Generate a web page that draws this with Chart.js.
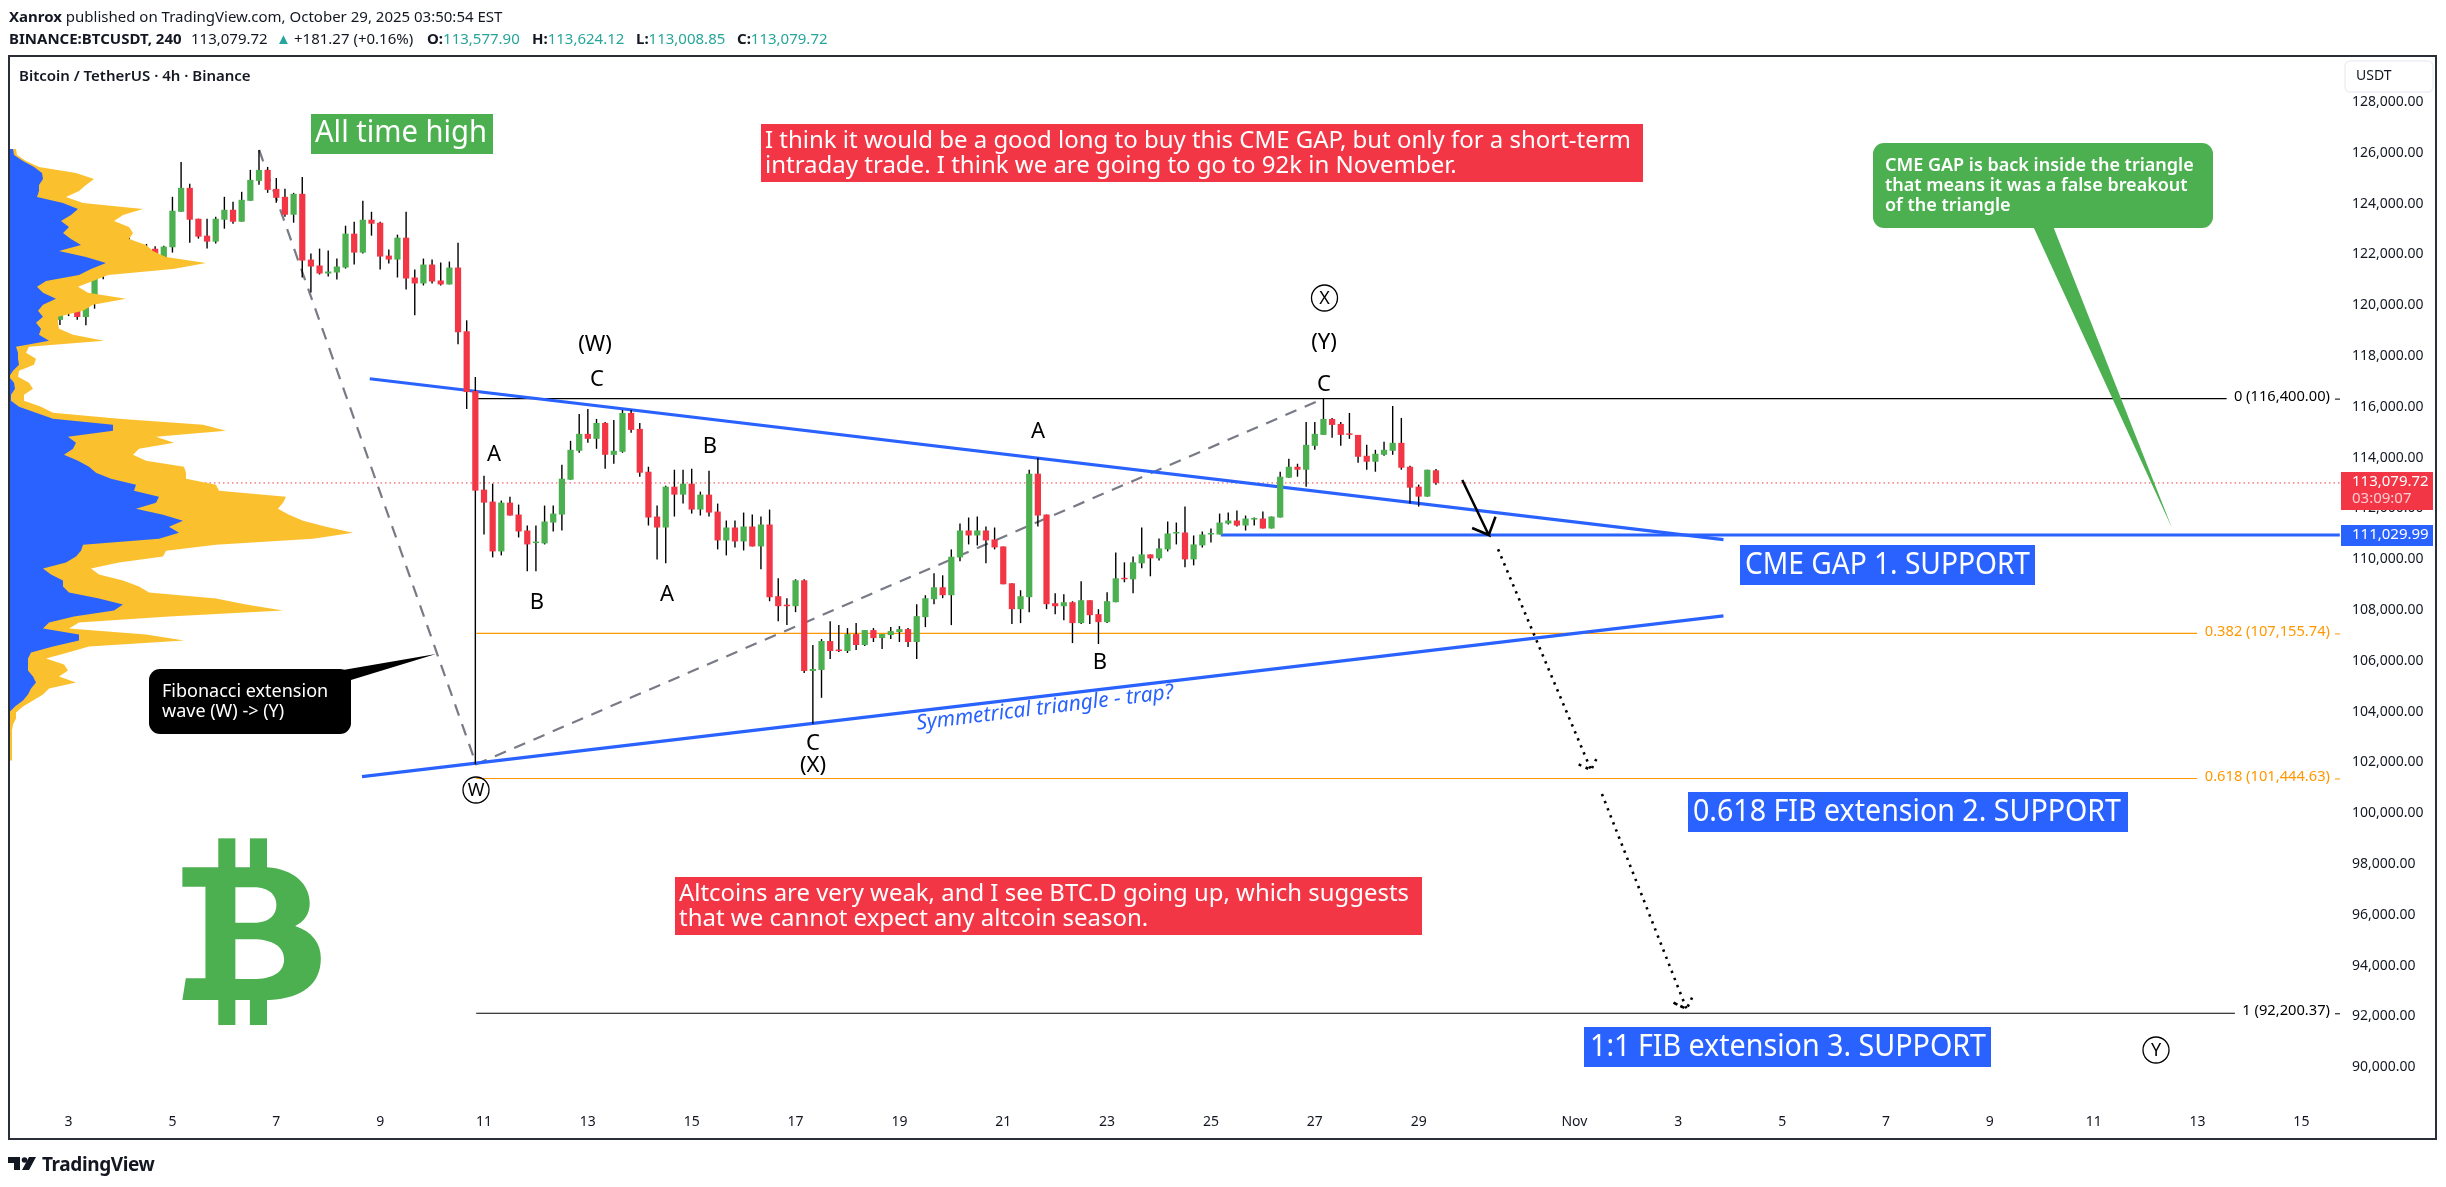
<!DOCTYPE html>
<html lang="en">
<head>
<meta charset="UTF-8">
<title>BTCUSDT 4h</title>
<script src="https://cdn.jsdelivr.net/npm/chart.js@4"></script>
<style>
    html, body { margin: 0; padding: 0; background: #fff; }
    body { width: 2446px; height: 1187px; position: relative; overflow: hidden; font-family: "Noto Sans", sans-serif; color: #131722; }
    #chart { position: absolute; left: 0; top: 0; }
    #frame { position: absolute; left: 8px; top: 55px; width: 2425px; height: 1081px; border: 2px solid #2a2e39; pointer-events: none; }
    .hd { position: absolute; font-size: 15px; line-height: 20px; white-space: nowrap; }
    .b { font-weight: 700; }
    .t { color: #26a69a; }
    #brand { position: absolute; left: 42px; top: 1152px; font-size: 19px; line-height: 24px; font-weight: 700; letter-spacing: -0.4px; }
</style>
</head>
<body>
<canvas id="chart" width="2446" height="1187"></canvas>
<div id="frame"></div>
<div class="hd" style="left:9px;top:6px"><span class="b">Xanrox</span> published on TradingView.com, October 29, 2025 03:50:54 EST</div>
<div class="hd b" style="left:9px;top:28px">BINANCE:BTCUSDT, 240</div>
<div class="hd" style="left:191px;top:28px">113,079.72</div>
<div class="hd t" style="left:276px;top:28px">▲</div>
<div class="hd" style="left:294px;top:28px">+181.27 (+0.16%)</div>
<div class="hd" style="left:427px;top:28px"><span class="b">O:</span><span class="t">113,577.90</span></div>
<div class="hd" style="left:532px;top:28px"><span class="b">H:</span><span class="t">113,624.12</span></div>
<div class="hd" style="left:636px;top:28px"><span class="b">L:</span><span class="t">113,008.85</span></div>
<div class="hd" style="left:737px;top:28px"><span class="b">C:</span><span class="t">113,079.72</span></div>
<div id="brand">TradingView</div>
<script>
// candles, 4h apart, first one at firstDay (days counted from Oct 0)
const firstDay = 2 + 4 / 6;
const opens = [119300,119500,119800,120005,119613,120449,121312,122300,122700,122450,122331,122122,122300,
    121926,122358,123756,124698,123482,122815,122580,123443,123835,123364,124188,124972,125404,124658,124345,123639,124462,121874,121639,121325,121364,121560,122894,122149,123443,123325,122031,121874,122737,121168,120933,121678,121051,120894,121560,119051,
    116698,112816,112345,110384,112306,111835,111208,110711,110698,111521,
    111835,113208,114345,115012,114816,115443,114188,114306,115835,115208,
    113522,111757,111325,112933,112619,113051,112031,112619,111953,110816,
    111325,110776,111365,110580,111443,108620,108266,108227,109247,105678,
    105717,106855,106502,106463,107129,106698,107286,106972,107090,107208,
    107325,106816,107796,108502,108972,108659,110149,111208,111012,111208,
    110855,110580,109129,108110,108580,113443,111835,108345,108227,108384,
    107561,108463,107914,107600,108384,109325,109286,109914,110266,110110,
    110463,111090,111129,110070,110620,111051,111051,111482,111600,111404,
    111639,111678,111286,111718,113286,113718,113600,114541,114972,115600,
    115404,115012,114972,114149,113914,114188,114345,114659,113718,112933,
    112541,113577.9];
const highs = [119650,119900,120590,120300,120528,121500,122000,122900,122950,122815,122515,122489,122400,
    122423,124345,125717,124855,123482,123482,123560,124345,124149,124541,125404,126188,125521,125090,124658,124502,125129,122109,122306,122227,121913,123207,123364,124188,123756,123364,122266,122855,123756,121482,121913,121874,121756,121796,122541,119482,
    117247,113365,113051,112384,112541,112227,111404,111404,112188,112188,
    113796,114737,115796,115992,115600,115482,115561,115953,115953,115443,
    113718,112188,112972,113600,113600,113639,112737,113561,112267,111600,
    111600,111914,111835,111757,112031,109325,108541,109286,109286,106698,
    106933,107639,107482,107365,107561,107286,107365,107129,107404,107443,
    107365,108306,108659,109521,109443,110463,111482,111718,111757,111365,
    111325,110580,109129,108855,113600,114070,111835,108737,108698,108424,
    109208,108463,108110,108776,110345,109953,110188,111325,110266,110894,
    111561,111521,112149,111012,111169,111286,111874,111914,111992,111796,
    111718,111953,111757,113522,114031,113835,115482,115482,116423,115639,
    115482,115835,114972,114580,114384,114698,116110,115639,113757,113012,
    113600,113624.12];
const lows = [119100,119300,119650,119500,119286,119940,121100,122188,122188,122300,122050,122000,121900,
    121900,122149,123756,122541,122698,122306,122502,123090,123286,123364,124188,124815,124502,124109,123560,123325,121168,120580,121286,121207,121090,121521,121678,122109,122815,121482,121717,121168,120698,119678,120855,120933,120855,120894,118541,115992,
    102000,111051,110149,110227,111796,110933,109600,109600,110659,111169,
    111208,113208,114267,114659,114424,113639,113835,114267,115051,113325,
    111404,110070,109914,111757,112267,111874,111796,111757,110463,110227,
    110541,110423,110580,109678,108424,107639,107482,107992,105600,103600,
    104620,106149,106423,106384,106502,106659,106816,106541,106933,106816,
    106619,106149,107404,108306,108541,107482,109992,110659,110620,109914,
    110463,109090,107522,107561,107992,111365,108110,107914,107678,106776,
    107522,107522,106737,107561,108384,109169,108737,109718,109404,110031,
    110384,110659,109757,109835,110541,110737,111051,111443,111365,111208,
    111404,111286,111286,111718,113286,113325,112933,114384,114972,114855,
    114541,114816,113874,113600,113522,114149,114188,113600,112267,112149,
    112541,113008.85];
const closes = [119500,119800,120300,119613,120005,121312,121800,122700,122450,122650,122122,122300,122000,
    122384,123796,124698,123443,122776,122580,123482,123835,123364,124227,125011,125404,124619,124305,123639,124462,121835,121600,121325,121404,121600,122894,122149,123443,123286,121992,121874,122737,121129,120933,121678,121011,120894,121560,119011,116658,
    112776,112306,110384,112306,111796,111169,110659,110737,111561,111874,
    113247,114384,115012,114816,115443,114188,114345,115835,115169,113482,
    111718,111325,112933,112619,113051,112031,112619,111914,110816,111325,
    110776,111365,110580,111443,108580,108227,108227,109247,105678,105757,
    106855,106463,106463,107129,106698,107286,106972,107129,107247,107325,
    106816,107835,108541,108972,108659,110175,111208,111012,111208,110816,
    110541,109090,108110,108620,113443,111796,108306,108227,108384,107561,
    108463,107874,107600,108424,109325,109286,109953,110266,110110,110502,
    111090,111129,110070,110659,111051,111090,111521,111600,111404,111678,
    111678,111286,111757,113325,113718,113600,114580,115012,115600,115365,
    114972,114972,114110,113914,114227,114384,114659,113678,112894,112541,
    113600,113079.72];

// volume profile rows, top row first
const vpTop = 126227;
const vpStep = 236;
const vpTotal = [8,9,18,31,68,86,78,71,58,75,135,115,106,121,125,121,138,145,158,198,165,100,85,70,80,118,85,75,50,50,51,65,96,21,18,28,26,11,10,21,25,16,16,33,45,111,195,218,148,166,131,125,
    138,176,178,178,208,211,278,275,270,281,295,318,345,305,208,158,155,111,83,91,115,131,141,208,238,275,161,71,61,138,176,81,60,38,56,60,51,68,41,35,25,15,8,8,5,4,4,4,4,4,4];
const vpBuy = [5,6,15,26,34,35,31,31,29,55,70,63,53,61,55,63,73,51,78,98,83,71,38,29,35,48,35,30,35,28,33,31,41,8,10,10,11,5,1,6,7,3,3,11,28,45,105,105,60,68,65,56,
    70,81,88,103,128,126,151,148,128,155,175,161,171,151,75,73,68,58,35,43,55,55,61,91,115,106,66,41,35,71,71,45,23,20,20,20,25,28,23,20,15,7,1,1,1,0,0,0,0,0,0];

// axes
const yTickValues = [90000,92000,94000,96000,98000,100000,102000,104000,106000,108000,110000,112000,114000,116000,118000,120000,122000,124000,126000,128000];
const xTickDays = [3,5,7,9,11,13,15,17,19,21,23,25,27,29,32,34,36,38,40,42,44,46];
const xTickLabels = ["3","5","7","9","11","13","15","17","19","21","23","25","27","29","Nov","3","5","7","9","11","13","15"];

// drawings on the chart, day / price
const upperTrendDays = [8.80, 34.87];
const upperTrendPrices = [117183, 110849];
const lowerTrendDays = [8.65, 34.87];
const lowerTrendPrices = [101514, 107849];
const zigzagDays = [6.67, 10.85, 27.17];
const zigzagPrices = [126190, 102000, 116400];
const gapDays = [25.19, 46.74];
const gapPrices = [111029.99, 111029.99];
const lastPriceDays = [1.9, 46.74];
const lastPrice = 113079.72;
const arrowDays = [29.84, 30.35, 30.03, 30.35, 30.48];
const arrowPrices = [113195, 111030, 111306, 111030, 111750];
const dotted1Days = [30.53, 32.32, 32.04, 32.32, 32.45];
const dotted1Prices = [110471, 101778, 102038, 101778, 102329];
const dotted2Days = [32.53, 34.16, 33.88, 34.16, 34.29];
const dotted2Prices = [100833, 92369, 92645, 92369, 92920];
const fibStartDay = 10.85;
const fibLabels = ["0 (116,400.00)", "0.382 (107,155.74)", "0.618 (101,444.63)", "1 (92,200.37)"];
const fibPrices = [116400, 107155.74, 101444.63, 92200.37];
const fibEndDays = [44.56, 43.99, 43.99, 44.72];
const fibColors = ["#000000", "#FF9800", "#FF9800", "#000000"];

const GREEN = "#4CAF50", RED = "#F23645", BLUE = "#2962FF", INK = "#131722";
const NOTE_FONT = '"Noto Sans", sans-serif';

const xy = (xs, ys) => xs.map((x, i) => ({ x, y: ys[i] }));
const candleDay = i => firstDay + i / 6;
const candleColor = opens.map((o, i) => closes[i] >= o ? GREEN : RED);

function lineSet(xs, ys, color, width, dash, order) {
    return { type: "line", data: xy(xs, ys), borderColor: color, borderWidth: width, borderDash: dash || [],
        pointRadius: 0, tension: 0, fill: false, order: order, xAxisID: "x", yAxisID: "y" };
}

function profileSet(values, color, order) {
    const pts = values.map((v, i) => ({ x: v, y: vpTop - i * vpStep }));
    pts.unshift({ x: 0, y: vpTop });
    pts.push({ x: 0, y: vpTop - (values.length - 1) * vpStep });
    return { type: "line", indexAxis: "y", data: pts, xAxisID: "xv", yAxisID: "y", borderWidth: 0,
        backgroundColor: color, pointRadius: 0, tension: 0, fill: "shape", order: order };
}

// boxes, labels and other annotations, on top of the chart
function noteBox(ctx, x, y, w, h, color, radius) {
    ctx.fillStyle = color;
    ctx.beginPath();
    ctx.roundRect(x, y, w, h, radius || 0);
    ctx.fill();
}

function noteText(ctx, text, x, y, font, color, maxW, align) {
    ctx.font = font;
    ctx.fillStyle = color;
    ctx.textAlign = align || "left";
    ctx.textBaseline = "middle";
    if (maxW) ctx.fillText(text, x, y, maxW); else ctx.fillText(text, x, y);
}

function circled(ctx, letter, x, y) {
    ctx.strokeStyle = "#000";
    ctx.lineWidth = 1.3;
    ctx.beginPath();
    ctx.arc(x, y, 13, 0, Math.PI * 2);
    ctx.stroke();
    noteText(ctx, letter, x, y + 1, "18px " + NOTE_FONT, "#000", null, "center");
}

function bitcoinMark(ctx) {
    ctx.save();
    ctx.translate(120, 780);
    ctx.scale(0.8546, 1 / 3);
    ctx.fillStyle = GREEN;
    ctx.fillRect(115, 175, 20, 90);
    ctx.fillRect(152, 175, 20, 90);
    ctx.fillRect(115, 655, 20, 80);
    ctx.fillRect(152, 655, 20, 80);
    ctx.beginPath();
    ctx.moveTo(73, 262);
    ctx.lineTo(172, 262);
    ctx.bezierCurveTo(205, 268, 222, 315, 222, 370);
    ctx.bezierCurveTo(222, 400, 216, 425, 205, 438);
    ctx.bezierCurveTo(225, 455, 235, 490, 235, 535);
    ctx.bezierCurveTo(235, 610, 215, 655, 175, 660);
    ctx.lineTo(73, 660);
    ctx.lineTo(77, 595);
    ctx.lineTo(100, 595);
    ctx.lineTo(100, 320);
    ctx.lineTo(73, 320);
    ctx.closePath();
    ctx.moveTo(135, 322);
    ctx.lineTo(160, 322);
    ctx.bezierCurveTo(176, 325, 183, 348, 183, 375);
    ctx.bezierCurveTo(183, 405, 175, 425, 160, 428);
    ctx.lineTo(135, 428);
    ctx.closePath();
    ctx.moveTo(135, 478);
    ctx.lineTo(160, 478);
    ctx.bezierCurveTo(182, 482, 192, 505, 192, 538);
    ctx.bezierCurveTo(192, 575, 180, 595, 160, 597);
    ctx.lineTo(135, 597);
    ctx.closePath();
    ctx.fill("evenodd");
    ctx.restore();
}

function tvLogo(ctx) {
    ctx.fillStyle = INK;
    ctx.beginPath();
    ctx.moveTo(8, 1157); ctx.lineTo(20, 1157); ctx.lineTo(20, 1170); ctx.lineTo(14, 1170); ctx.lineTo(14, 1163); ctx.lineTo(8, 1163);
    ctx.closePath();
    ctx.moveTo(29, 1157); ctx.lineTo(36, 1157); ctx.lineTo(29, 1170); ctx.lineTo(22, 1170);
    ctx.closePath();
    ctx.fill();
    ctx.beginPath();
    ctx.arc(24.5, 1160, 2.8, 0, Math.PI * 2);
    ctx.fill();
}

const annotations = {
    id: "annotations",
    afterDraw(chart) {
        const ctx = chart.ctx;
        const yScale = chart.scales.y;
        ctx.save();

        noteText(ctx, "Bitcoin / TetherUS · 4h · Binance", 19, 77, "600 15px " + NOTE_FONT, INK, 240);

        noteBox(ctx, 311, 114, 182, 40, GREEN);
        noteText(ctx, "All time high", 315, 133, "30px " + NOTE_FONT, "#fff", 172);

        noteBox(ctx, 761, 124, 882, 58, RED);
        noteText(ctx, "I think it would be a good long to buy this CME GAP, but only for a short-term", 765, 141, "24px " + NOTE_FONT, "#fff", 866);
        noteText(ctx, "intraday trade. I think we are going to go to 92k in November.", 765, 166, "24px " + NOTE_FONT, "#fff", 694);

        noteBox(ctx, 675, 877, 747, 58, RED);
        noteText(ctx, "Altcoins are very weak, and I see BTC.D going up, which suggests", 679, 894, "24px " + NOTE_FONT, "#fff", 730);
        noteText(ctx, "that we cannot expect any altcoin season.", 679, 919, "24px " + NOTE_FONT, "#fff", 474);

        // green callout
        ctx.fillStyle = GREEN;
        ctx.beginPath();
        ctx.moveTo(2033, 226); ctx.lineTo(2053, 226); ctx.lineTo(2172, 528);
        ctx.closePath();
        ctx.fill();
        noteBox(ctx, 1873, 143, 340, 85, GREEN, 11);
        noteText(ctx, "CME GAP is back inside the triangle", 1885, 166, "600 18px " + NOTE_FONT, "#fff", 316);
        noteText(ctx, "that means it was a false breakout", 1885, 186, "600 18px " + NOTE_FONT, "#fff", 311);
        noteText(ctx, "of the triangle", 1885, 206, "600 18px " + NOTE_FONT, "#fff", 130);

        // black callout
        ctx.fillStyle = "#000";
        ctx.beginPath();
        ctx.moveTo(343, 670); ctx.lineTo(351, 680); ctx.lineTo(436, 654);
        ctx.closePath();
        ctx.fill();
        noteBox(ctx, 149, 669, 202, 65, "#000", 11);
        noteText(ctx, "Fibonacci extension", 162, 692, "18px " + NOTE_FONT, "#fff", 176);
        noteText(ctx, "wave (W) -> (Y)", 162, 712, "18px " + NOTE_FONT, "#fff", 138);

        // support labels
        noteBox(ctx, 1740, 545, 295, 40, BLUE);
        noteText(ctx, "CME GAP 1. SUPPORT", 1745, 565, "30px " + NOTE_FONT, "#fff", 285);
        noteBox(ctx, 1688, 792, 440, 40, BLUE);
        noteText(ctx, "0.618 FIB extension 2. SUPPORT", 1693, 812, "30px " + NOTE_FONT, "#fff", 428);
        noteBox(ctx, 1584, 1027, 407, 40, BLUE);
        noteText(ctx, "1:1 FIB extension 3. SUPPORT", 1590, 1047, "30px " + NOTE_FONT, "#fff", 396);

        // wave labels
        const waves = [["(W)", 595, 345], ["C", 597, 380], ["A", 494, 455], ["B", 537, 603], ["A", 667, 595], ["B", 710, 447],
            ["C", 813, 744], ["(X)", 813, 766], ["A", 1038, 432], ["B", 1100, 663], ["C", 1324, 385], ["(Y)", 1324, 343]];
        waves.forEach(w => noteText(ctx, w[0], w[1], w[2], "22px " + NOTE_FONT, "#000", null, "center"));
        circled(ctx, "X", 1324.5, 298);
        circled(ctx, "W", 476, 790);
        circled(ctx, "Y", 2156, 1050);

        ctx.save();
        ctx.translate(1045, 708);
        ctx.rotate(-7 * Math.PI / 180);
        noteText(ctx, "Symmetrical triangle - trap?", 0, 0, "italic 21px " + NOTE_FONT, BLUE, 272, "center");
        ctx.restore();

        bitcoinMark(ctx);
        tvLogo(ctx);

        // fib level labels
        fibLabels.forEach((t, i) => {
            const py = yScale.getPixelForValue(fibPrices[i]);
            noteText(ctx, t, 2330, py - 2, "14.7px " + NOTE_FONT, fibColors[i], null, "right");
            ctx.fillStyle = fibColors[i];
            ctx.fillRect(2335, py, 5, 1);
        });

        // price axis extras
        ctx.fillStyle = "#fff";
        ctx.strokeStyle = "#eef0f3";
        ctx.lineWidth = 1.5;
        ctx.beginPath();
        ctx.roundRect(2345, 61, 88, 31, 5);
        ctx.fill();
        ctx.stroke();
        noteText(ctx, "USDT", 2356, 76, "14px " + NOTE_FONT, INK);

        const lastY = yScale.getPixelForValue(lastPrice);
        noteBox(ctx, 2341, lastY - 11, 92, 38, RED);
        noteText(ctx, "113,079.72", 2352, lastY - 1, "15px " + NOTE_FONT, "#fff");
        noteText(ctx, "03:09:07", 2352, lastY + 16, "15px " + NOTE_FONT, "rgba(255,255,255,0.75)");
        const gapY = yScale.getPixelForValue(gapPrices[0]);
        noteBox(ctx, 2341, gapY - 10, 92, 21, BLUE);
        noteText(ctx, "111,029.99", 2352, gapY, "15px " + NOTE_FONT, "#fff");

        ctx.restore();
    }
};

new Chart(document.getElementById("chart"), {
    type: "bar",
    data: {
        datasets: [
            profileSet(vpBuy, BLUE, 0),
            profileSet(vpTotal, "#FBC02D", 1),
            { data: opens.map((o, i) => ({ x: candleDay(i), y: [o, closes[i]] })), backgroundColor: candleColor, maxBarThickness: 7,
                minBarLength: 1.5, grouped: false, order: 2, xAxisID: "x", yAxisID: "y" },
            { data: highs.map((h, i) => ({ x: candleDay(i), y: [lows[i], h] })), backgroundColor: "#000", maxBarThickness: 1.4,
                grouped: false, order: 3, xAxisID: "x", yAxisID: "y" },
            lineSet(upperTrendDays, upperTrendPrices, BLUE, 3.2, null, 4),
            lineSet(lowerTrendDays, lowerTrendPrices, BLUE, 3.2, null, 4),
            lineSet(zigzagDays, zigzagPrices, "#787B86", 2.2, [12, 9], 5),
            lineSet(gapDays, gapPrices, BLUE, 3.2, null, 4),
            lineSet(lastPriceDays, [lastPrice, lastPrice], RED, 1, [1.5, 3], 5),
            lineSet(arrowDays, arrowPrices, "#000", 2.5, null, 1),
            lineSet(dotted1Days, dotted1Prices, "#000", 2.6, [2.4, 5.2], 1),
            lineSet(dotted2Days, dotted2Prices, "#000", 2.6, [2.4, 5.2], 1),
            ...fibPrices.map((p, i) => lineSet([fibStartDay, fibEndDays[i]], [p, p], fibColors[i], 1.1, null, 5))
        ]
    },
    plugins: [annotations],
    options: {
        responsive: false,
        animation: false,
        events: [],
        layout: { padding: { left: 8, top: 55, right: 9, bottom: 47 } },
        plugins: { legend: { display: false }, tooltip: { enabled: false } },
        scales: {
            x: {
                type: "linear", offset: false, min: 1.833, max: 46.84,
                grid: { display: false, drawTicks: false }, border: { display: false },
                afterFit: s => { s.height = 35; },
                afterBuildTicks: s => { s.ticks = xTickDays.map(v => ({ value: v })); },
                ticks: { autoSkip: false, maxRotation: 0, padding: 9, color: INK, font: { family: "Noto Sans", size: 14 },
                    callback: (v, i) => xTickLabels[i] }
            },
            y: {
                type: "linear", position: "right", min: 88589, max: 129928,
                grid: { display: false, drawTicks: false }, border: { display: false },
                afterFit: s => { s.width = 92; },
                afterBuildTicks: s => { s.ticks = yTickValues.map(v => ({ value: v })); },
                ticks: { autoSkip: false, padding: 7, labelOffset: -2, color: INK, font: { family: "Noto Sans", size: 14 },
                    callback: v => v.toLocaleString("en-US", { minimumFractionDigits: 2, maximumFractionDigits: 2 }) }
            },
            xv: { type: "linear", axis: "x", offset: false, display: false, min: 0, max: 2337 }
        }
    }
});
</script>
</body>
</html>
